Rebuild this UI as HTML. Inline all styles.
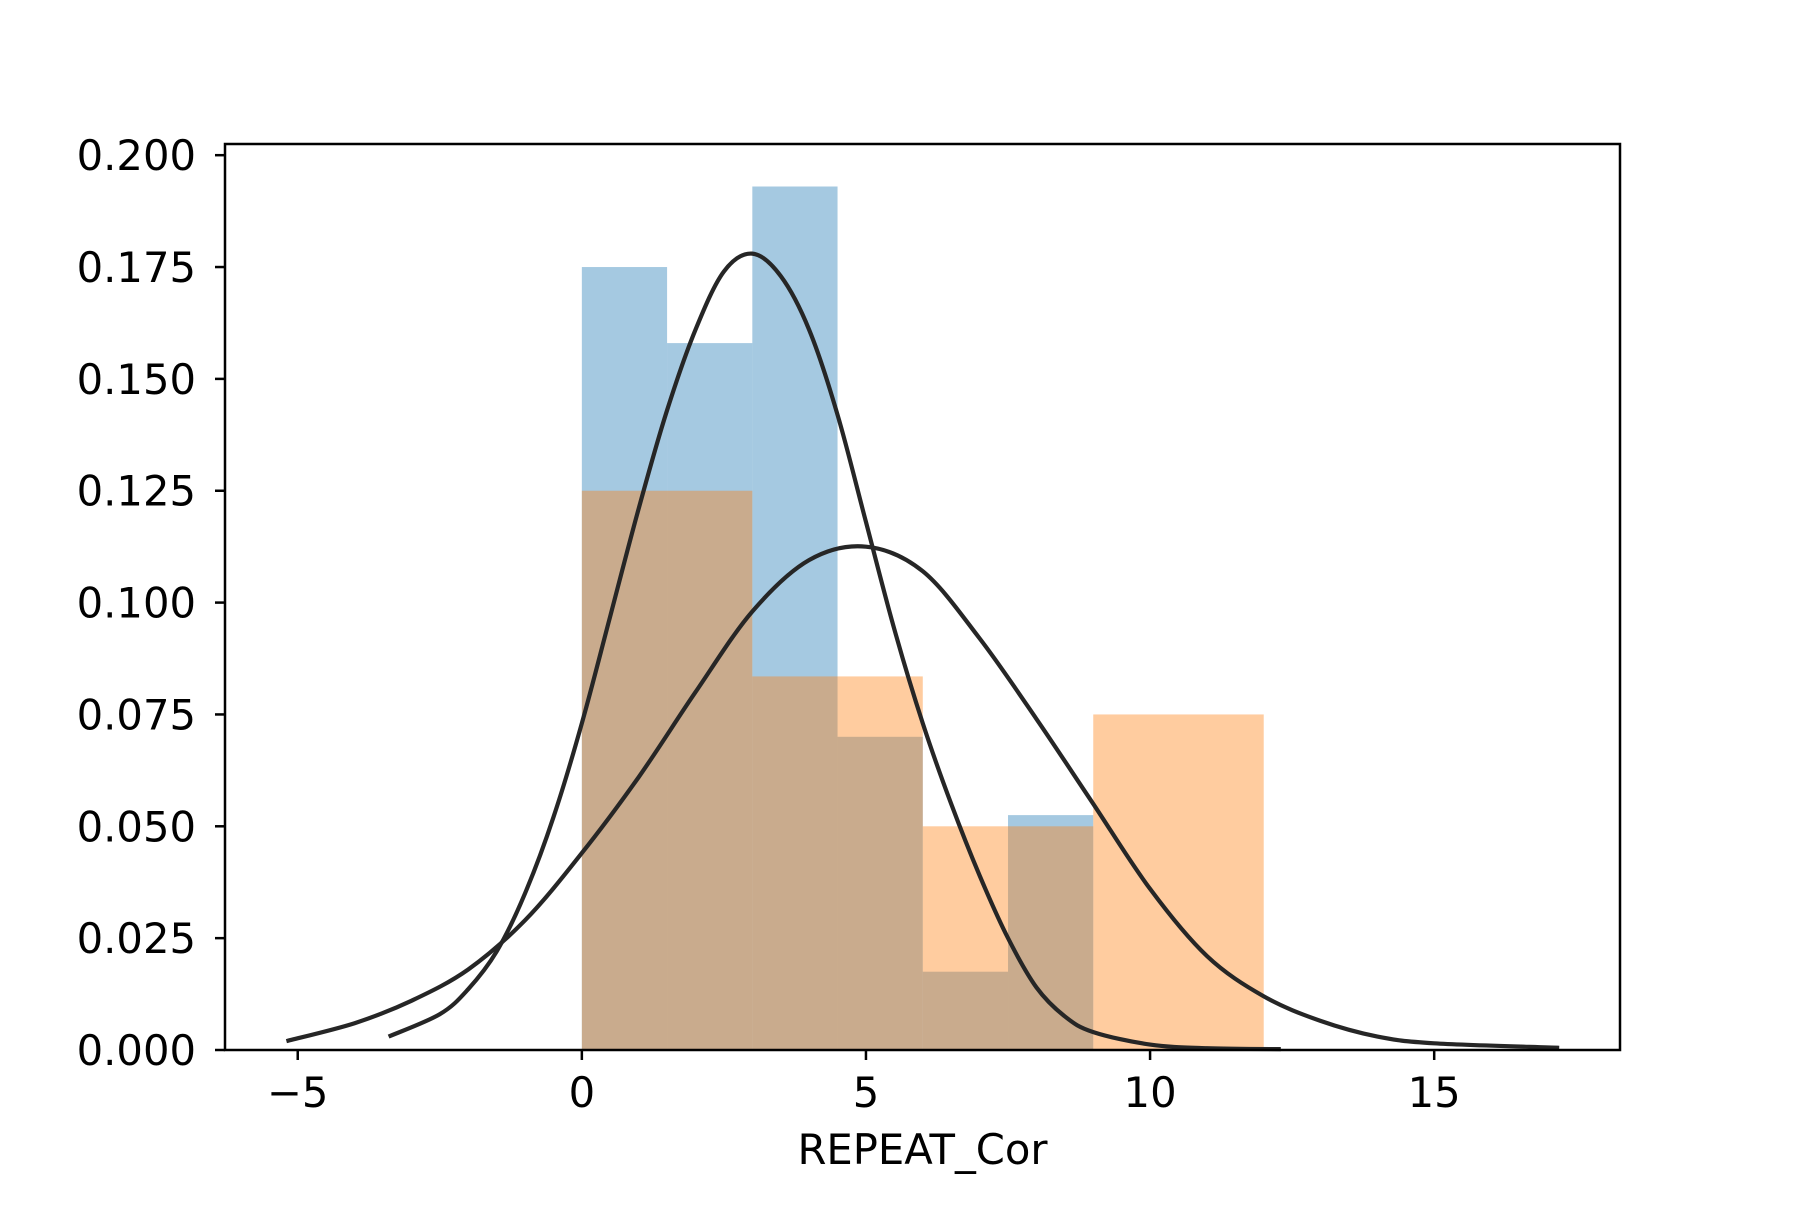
<!DOCTYPE html>
<html><head><meta charset="utf-8"><style>
html,body{margin:0;padding:0;background:#fff;}
svg text{font-family:"DejaVu Sans","Liberation Sans",sans-serif;font-size:41.7px;fill:#000;}
</style></head><body>
<svg id="chart" width="1800" height="1200" viewBox="0 0 1800 1200" xmlns="http://www.w3.org/2000/svg">
<rect width="1800" height="1200" fill="#fff"/>
<g id="bars"></g>
<g id="curves"></g>
<g id="axes"></g>
</svg>
<script>
const blueEdges=[0,1.5,3,4.5,6,7.5,9];
const blueHeights=[0.175,0.158,0.193,0.070,0.0175,0.0525];
const orangeEdges=[0,3,6,9,12];
const orangeHeights=[0.125,0.0835,0.05,0.075];
const kde1X=[-3.4,-2.5,-2,-1.5,-1,-0.5,0,0.5,1,1.5,2,2.5,3,3.5,4,4.5,5,5.5,6,6.5,7,7.5,8,8.5,9,10,11,12.3];
const kde1Y=[0.003,0.008,0.0136,0.022,0.035,0.052,0.073,0.097,0.121,0.143,0.161,0.174,0.178,0.173,0.161,0.142,0.118,0.094,0.073,0.055,0.039,0.025,0.014,0.0075,0.004,0.0012,0.0004,0.0002];
const kde2X=[-5.2,-4,-3,-2,-1,0,1,2,3,4,5,6,7,8,9,10,11,12,13,14,15,17.2];
const kde2Y=[0.002,0.006,0.011,0.018,0.029,0.044,0.061,0.080,0.098,0.1095,0.1125,0.107,0.092,0.074,0.055,0.036,0.021,0.012,0.0065,0.003,0.0015,0.0005];
const xTicks=[-5,0,5,10,15];
const xTickLabels=["\u22125","0","5","10","15"];
const yTicks=[0,0.025,0.05,0.075,0.1,0.125,0.15,0.175,0.2];
const yTickLabels=["0.000","0.025","0.050","0.075","0.100","0.125","0.150","0.175","0.200"];

const L=225,R=1620,T=144,B=1050;
const xMin=-6.28,xMax=18.27,yMin=0,yMax=0.2025;
function sx(v){return L+(v-xMin)/(xMax-xMin)*(R-L);}
function sy(v){return B-(v-yMin)/(yMax-yMin)*(B-T);}
const NS="http://www.w3.org/2000/svg";
function mk(tag,attrs,parent){const e=document.createElementNS(NS,tag);for(const k in attrs)e.setAttribute(k,attrs[k]);parent.appendChild(e);return e;}
const bars=document.getElementById('bars');
blueHeights.forEach((h,i)=>{
  const r=mk('rect',{x:sx(blueEdges[i]),y:sy(h),width:sx(blueEdges[i+1])-sx(blueEdges[i]),height:sy(0)-sy(h),fill:'#1f77b4','fill-opacity':0.4},bars);
  
  
});
orangeHeights.forEach((h,i)=>{
  const r=mk('rect',{x:sx(orangeEdges[i]),y:sy(h),width:sx(orangeEdges[i+1])-sx(orangeEdges[i]),height:sy(0)-sy(h),fill:'#ff7f0e','fill-opacity':0.4},bars);
  
  
});
const curves=document.getElementById('curves');
function curve(xs,ys,name){
  const P=xs.map((x,i)=>[sx(x),sy(ys[i])]);
  let d='M'+P[0][0].toFixed(1)+','+P[0][1].toFixed(1);
  for(let i=0;i<P.length-1;i++){
    const p0=P[Math.max(0,i-1)],p1=P[i],p2=P[i+1],p3=P[Math.min(P.length-1,i+2)];
    const c1=[p1[0]+(p2[0]-p0[0])/6,p1[1]+(p2[1]-p0[1])/6];
    const c2=[p2[0]-(p3[0]-p1[0])/6,p2[1]-(p3[1]-p1[1])/6];
    d+=' C'+c1[0].toFixed(1)+','+c1[1].toFixed(1)+' '+c2[0].toFixed(1)+','+c2[1].toFixed(1)+' '+p2[0].toFixed(1)+','+p2[1].toFixed(1);
  }
  const p=mk('path',{d:d,fill:'none',stroke:'#262626','stroke-width':4.2,'stroke-linejoin':'round'},curves);
  
  
}
curve(kde1X,kde1Y,'kde-curve-narrow');
curve(kde2X,kde2Y,'kde-curve-wide');
const axes=document.getElementById('axes');
const frame=mk('rect',{x:L,y:T,width:R-L,height:B-T,fill:'none',stroke:'#000','stroke-width':2.5},axes);


xTicks.forEach((v,i)=>{
  const t=mk('line',{x1:sx(v),x2:sx(v),y1:B,y2:B+10,stroke:'#000','stroke-width':2.5},axes);
  
  
  const tx=mk('text',{x:sx(v),y:B+57,'text-anchor':'middle'},axes);
  tx.textContent=xTickLabels[i];
  
  
});
yTicks.forEach((v,i)=>{
  const t=mk('line',{x1:L-10,x2:L,y1:sy(v),y2:sy(v),stroke:'#000','stroke-width':2.5},axes);
  
  
  const tx=mk('text',{x:L-29,y:sy(v)+15,'text-anchor':'end'},axes);
  tx.textContent=yTickLabels[i];
  
  
});
const xl=mk('text',{x:(L+R)/2,y:1164,'text-anchor':'middle'},axes);
xl.textContent='REPEAT_Cor';


</script>
</body></html>
